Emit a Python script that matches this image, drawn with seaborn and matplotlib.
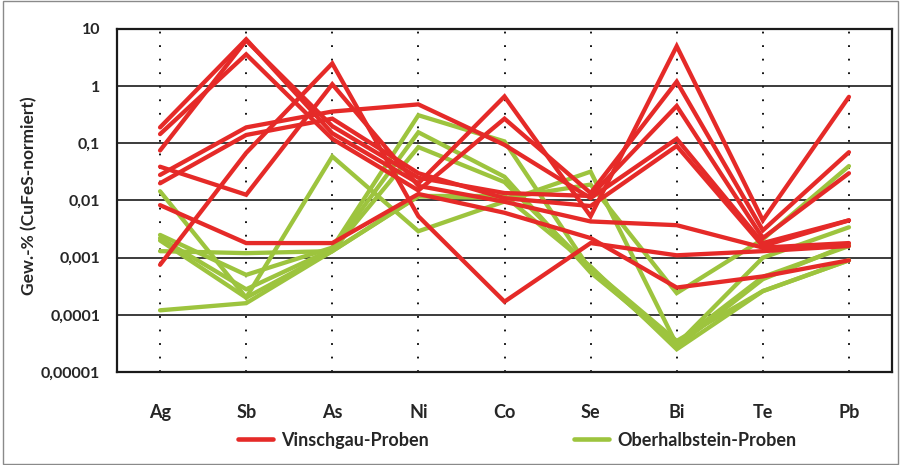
import matplotlib
matplotlib.use("Agg")
import matplotlib.pyplot as plt
from matplotlib.patches import Rectangle
from matplotlib.lines import Line2D
import seaborn as sns
import pandas as pd
import numpy as np

# Elements on the x axis
elements = ["Ag", "Sb", "As", "Ni", "Co", "Se", "Bi", "Te", "Pb"]

# CuFeS-normalised contents (wt.-%) per sample
vinschgau_1 = [0.19, 6.6, 0.15, 0.02, 0.66, 0.0053, 5.0, 0.0045, 0.65]
vinschgau_2 = [0.145, 3.6, 0.12, 0.015, 0.27, 0.0135, 1.2, 0.003, 0.07]
vinschgau_3 = [0.075, 6.3, 0.2, 0.025, 0.0135, 0.012, 0.45, 0.0022, 0.03]
vinschgau_4 = [0.028, 0.19, 0.36, 0.48, 0.094, 0.011, 0.12, 0.0018, 0.0045]
vinschgau_5 = [0.02, 0.14, 0.27, 0.03, 0.011, 0.008, 0.09, 0.0016, 0.0045]
vinschgau_6 = [0.039, 0.0126, 1.08, 0.018, 0.0095, 0.0043, 0.0037, 0.0015, 0.0018]
vinschgau_7 = [0.0083, 0.0018, 0.0018, 0.013, 0.0061, 0.0022, 0.0003, 0.00047, 0.0009]
vinschgau_8 = [0.00075, 0.068, 2.5, 0.0053, 0.00017, 0.0018, 0.0011, 0.0013, 0.0016]

oberhalbstein_1 = [0.0145, 0.0002, 0.059, 0.0029, 0.0096, 0.032, 0.00003, 0.001, 0.0034]
oberhalbstein_2 = [0.0013, 0.0012, 0.0013, 0.0118, 0.011, 0.019, 0.00024, 0.0021, 0.04]
oberhalbstein_3 = [0.0025, 0.0005, 0.0015, 0.31, 0.108, 0.0006, 0.000028, 0.00042, 0.0017]
oberhalbstein_4 = [0.0022, 0.00028, 0.0014, 0.156, 0.026, 0.00055, 0.000032, 0.00046, 0.0016]
oberhalbstein_5 = [0.002, 0.0002, 0.0013, 0.086, 0.021, 0.00065, 0.000035, 0.00026, 0.0009]
oberhalbstein_6 = [0.00012, 0.00016, 0.0013, 0.012, 0.012, 0.0007, 0.000025, 0.00026, 0.0009]

group_names = ["Vinschgau-Proben", "Oberhalbstein-Proben"]
groups = {
    group_names[0]: [vinschgau_1, vinschgau_2, vinschgau_3, vinschgau_4,
                     vinschgau_5, vinschgau_6, vinschgau_7, vinschgau_8],
    group_names[1]: [oberhalbstein_1, oberhalbstein_2, oberhalbstein_3,
                     oberhalbstein_4, oberhalbstein_5, oberhalbstein_6],
}

y_ticks = [1e-5, 1e-4, 1e-3, 1e-2, 1e-1, 1, 10]
y_tick_labels = ["0,00001", "0,0001", "0,001", "0,01", "0,1", "1", "10"]

rows = []
for grp, samples in groups.items():
    for i, vals in enumerate(samples):
        for pos, v in enumerate(vals):
            rows.append({"pos": pos, "value": v, "Gruppe": grp, "sample": f"{grp}-{i}"})
df = pd.DataFrame(rows)

sns.set_theme(style="white")
plt.rcParams["font.family"] = ["Lato", "DejaVu Sans"]

fig = plt.figure(figsize=(9.01, 4.65), dpi=100)
ax = fig.add_axes([117 / 901, 1 - 372 / 465, 775 / 901, 343 / 465])

red = "#E52A28"
green = "#9DC43E"

# dotted verticals at each element
for pos in range(len(elements)):
    ax.axvline(pos, color="black", lw=1.3, ls=(0, (1, 6.5)), zorder=1)
# decade grid
for t in y_ticks:
    ax.axhline(t, color="#1a1a1a", lw=1.2, zorder=1)

sns.lineplot(data=df, x="pos", y="value", hue="Gruppe", units="sample",
             estimator=None, palette={group_names[0]: red, group_names[1]: green},
             hue_order=group_names[::-1], lw=3.1, ax=ax, legend=False, zorder=3,
             solid_joinstyle="miter")

ax.set_yscale("log")
ax.set_ylim(1e-5, 10)
ax.set_xlim(-0.5, len(elements) - 0.5)
ax.set_yticks(y_ticks)
ax.set_yticklabels(y_tick_labels)
ax.minorticks_off()
ax.set_xticks(range(len(elements)))
ax.set_xticklabels(elements)
ax.tick_params(axis="x", length=0, pad=23, labelsize=13)
ax.tick_params(axis="y", length=0, pad=12, labelsize=11.5)
for lbl in ax.get_xticklabels() + ax.get_yticklabels():
    lbl.set_fontweight("bold")
ax.set_xlabel("")
ax.set_ylabel("Gew.-% (CuFeS-normiert)", fontsize=12.5, fontweight="bold")
ax.yaxis.set_label_coords(-0.103, 0.515)

for s in ax.spines.values():
    s.set_visible(True)
    s.set_color("#1a1a1a")
    s.set_linewidth(1.6)

handles = [Line2D([], [], color=red, lw=3.3), Line2D([], [], color=green, lw=3.3)]
fig.legend(handles, group_names, loc="center", bbox_to_anchor=(0.574, 1 - 440 / 465),
           ncol=2, frameon=False, columnspacing=8.0, handlelength=1.95,
           handletextpad=0.45, prop={"weight": "bold", "size": 13})

fig.patches.append(Rectangle((0.003, 0.002), 0.994, 0.996, transform=fig.transFigure,
                             fill=False, edgecolor="#8a8a8a", lw=1.0))

fig.savefig("out.png", dpi=100)
